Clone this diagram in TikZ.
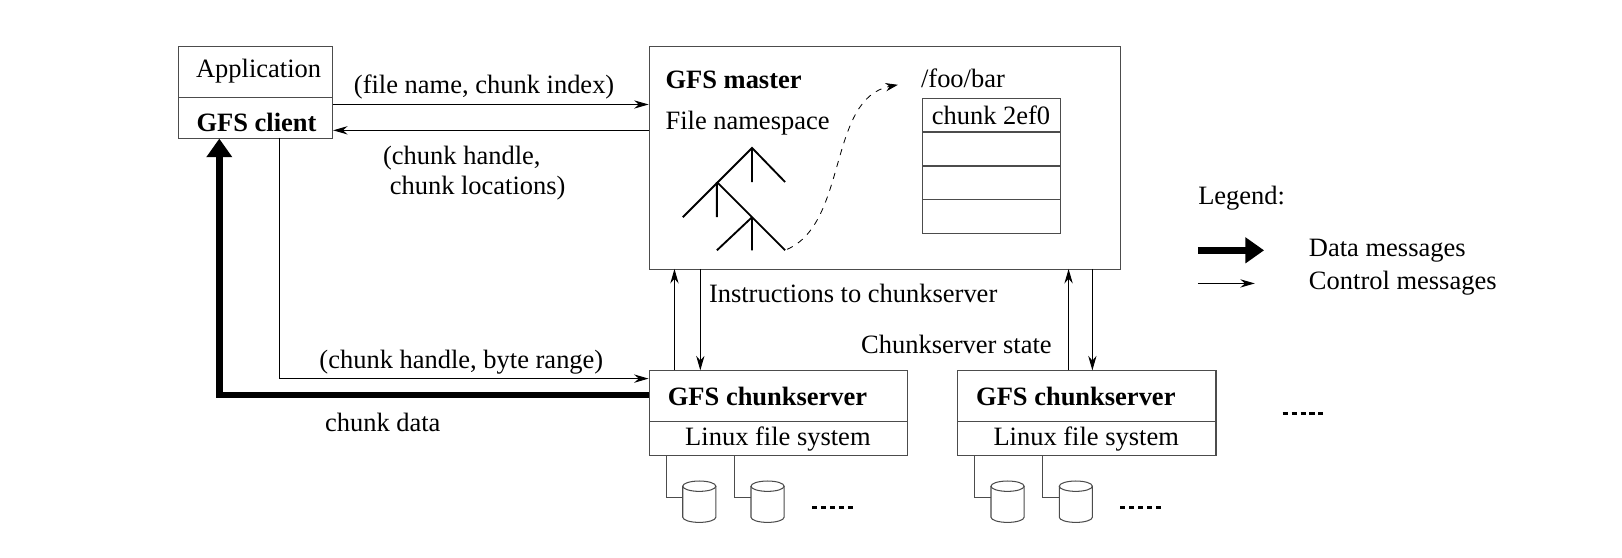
\documentclass[tikz,border=0pt]{standalone}
\usepackage{fontspec}
\setmainfont{Liberation Serif}
\usetikzlibrary{arrows.meta}
\begin{document}
\begin{tikzpicture}[x=0.5pt,y=-0.5pt,
  box/.style={draw=black!70,line width=0.5pt},
  ctl/.style={-{Stealth[length=7pt,width=4pt]},line width=0.5pt},
  data/.style={-{Triangle[length=9pt,width=12pt]},line width=3.2pt},
  lbl/.style={font=\fontsize{12.8}{14.5}\selectfont,inner sep=0pt},
  bl/.style={lbl,font=\fontsize{12.8}{14.5}\selectfont\bfseries},
  dots/.style={line width=1.5pt,dash pattern=on 2.5pt off 1.8pt},
  tree/.style={line width=0.9pt}]
\useasboundingbox (0,0) rectangle (1568,539);
\newcommand{\cyl}[2]{%
  \draw[black!70,line width=0.5pt,fill=white] (#1-16,#2) -- (#1-16,#2+30) arc[start angle=180,end angle=0,x radius=16,y radius=5] -- (#1+16,#2) ;
  \draw[black!70,line width=0.5pt] (#1,#2) ellipse[x radius=16,y radius=5];}
% client
\node[box,minimum width=149*0.5pt,minimum height=50*0.5pt,anchor=north west] (app) at (172,44) {};
\node[box,minimum width=149*0.5pt,minimum height=39*0.5pt,anchor=north west] (cli) at (172,94) {};
\node[lbl] at (250,69) {Application};
\node[bl] at (248,118) {GFS client};
% master
\node[box,minimum width=456*0.5pt,minimum height=216*0.5pt,anchor=north west] (mas) at (627,44) {};
\node[bl,anchor=west] at (643,77) {GFS master};
\node[lbl,anchor=west] at (643,119) {File namespace};
\node[lbl,anchor=west] at (890,76) {/foo/bar};
\foreach \y in {95,128,160,193}{\draw[box] (892,\y) rectangle (1025,\y+32.5);}
\node[lbl] at (958,111) {chunk 2ef0};
\draw[tree] (660,210)--(727,143)--(759,176) (727,143)--(727,176);
\draw[tree] (693,176)--(693,210) (693,176)--(759,242);
\draw[tree] (727,210)--(693,242) (727,210)--(727,242);
\coordinate (tr) at (761,241);
\coordinate (fb) at (868,82);
\draw[dashed,line width=0.4pt,-{Stealth[length=6pt,width=4pt]}] (tr) .. controls (820,215) and (800,95) .. (fb);
% chunkservers
\foreach \n/\x in {1/627,2/925}{
  \node[box,minimum width=250*0.5pt,minimum height=49*0.5pt,anchor=north west] (cs\n) at (\x,358) {};
  \node[box,minimum width=250*0.5pt,minimum height=33*0.5pt,anchor=north west] (lfs\n) at (\x,407) {};
  \node[bl] at (\x+115,383) {GFS chunkserver};
  \node[lbl] at (\x+125,424) {Linux file system};
  \draw[box] (\x+17,440) |- (\x+33,481);
  \draw[box] (\x+83,440) |- (\x+99,481);
  \cyl{\x+49}{470}
  \cyl{\x+115}{470}
  \draw[dots] (\x+158,491) -- (\x+198,491);
}
\draw[dots] (1240,400) -- (1280,400);
% client-master
\draw[ctl] (cli.north east|-0,101) -- (mas.west|-0,101);
\node[lbl] at (468,84) {(file name, chunk index)};
\draw[ctl] (mas.west|-0,126) -- (cli.east|-0,126);
\node[lbl,anchor=north west,align=left] at (370,141) {(chunk handle,\\\ chunk locations)};
% client-chunkserver
\draw[ctl] (270,133) |- (cs1.west|-0,366);
\node[lbl] at (446,350) {(chunk handle, byte range)};
\draw[data] (cs1.west|-0,382) -| (cli.south west-|212,0);
\node[lbl] at (370,408) {chunk data};
% master-chunkserver
\draw[ctl] (652,358) -- (652,260);
\draw[ctl] (677,260) -- (677,358);
\node[lbl,anchor=west] at (685,284) {Instructions to chunkserver};
\draw[ctl] (1033,358) -- (1033,260);
\draw[ctl] (1056,260) -- (1056,358);
\node[lbl,anchor=east] at (1017,333) {Chunkserver state};
% legend
\node[lbl,anchor=west] at (1158,192) {Legend:};
\coordinate (l1a) at (1158,242); \coordinate (l1b) at (1222,242);
\draw[data] (l1a) -- (l1b);
\node[lbl,anchor=west] at (1265,242) {Data messages};
\coordinate (l2a) at (1158,274); \coordinate (l2b) at (1213,274);
\draw[ctl] (l2a) -- (l2b);
\node[lbl,anchor=west] at (1265,274) {Control messages};
\end{tikzpicture}
\end{document}
